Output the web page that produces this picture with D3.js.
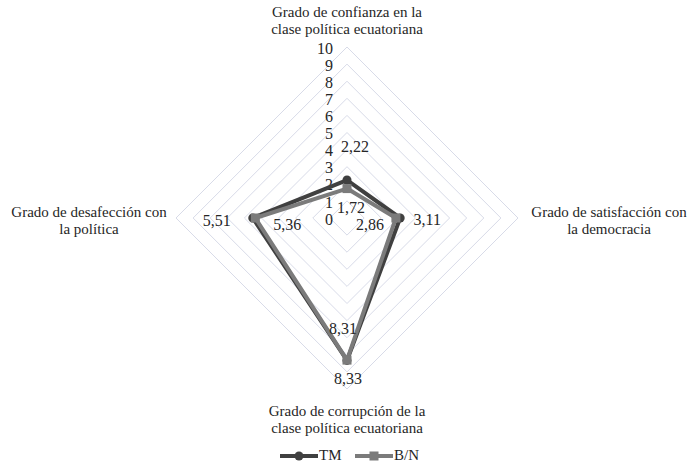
<!DOCTYPE html>
<html><head><meta charset="utf-8">
<script src="https://cdn.jsdelivr.net/npm/d3@7"></script>
<style>body{margin:0;background:#fff}</style>
</head><body><svg id="c" width="694" height="465" style="font-family:'Times New Roman','Liberation Serif',serif"></svg>
<script>
const categories = [
  ["Grado de confianza en la","clase política ecuatoriana"],
  ["Grado de satisfacción con","la democracia"],
  ["Grado de corrupción de la","clase política ecuatoriana"],
  ["Grado de desafección con","la política"]
];
const seriesNames = ["TM","B/N"];
const tmValues = [2.22, 3.11, 8.33, 5.51];
const bnValues = [1.72, 2.86, 8.31, 5.36];
const tickValues = [0,1,2,3,4,5,6,7,8,9,10];

const FONT = "'Times New Roman', 'Liberation Serif', serif";
const svg = d3.select("#c");
const cx = 347, cy = 218, R = 171;
const r = d3.scaleLinear().domain([0,10]).range([0,R]);
const ang = d3.scalePoint().domain(d3.range(categories.length)).range([0, 2*Math.PI*(categories.length-1)/categories.length]);
const pt = (i,v) => [cx + r(v)*Math.sin(ang(i)), cy - r(v)*Math.cos(ang(i))];
const textColor = "#262626";
const txt = (sel, size) => sel.style("font-family", FONT).style("font-size", size + "px").attr("fill", textColor);

// grid
const line = d3.line();
tickValues.filter(t=>t>0).forEach(t=>{
  const pts = categories.map((c,i)=>pt(i,t));
  svg.append("path").attr("d", line(pts)+"Z").attr("fill","none").attr("stroke","#d8dbe8").attr("stroke-width",1);
});
// tick labels
svg.selectAll(".tk").data(tickValues).join("text")
  .call(txt, 16)
  .attr("x", cx-14).attr("y", d=>cy - r(d) + 3).attr("text-anchor","end")
  .attr("dominant-baseline","middle").text(d=>d);

// category labels: [dx, dy first line, dy second line]
const catPos = [[0,-204,-187],[262,-4,13],[0,195,212],[-258,-4,13]];
categories.forEach((c,i)=>{
  const p = catPos[i];
  c.forEach((ln,j)=>{
    svg.append("text").call(txt, 15).attr("x", cx+p[0]).attr("y", cy+p[1+j])
      .attr("text-anchor","middle").attr("dominant-baseline","middle").text(ln);
  });
});

const series = [
  {name:seriesNames[0], values:tmValues, color:"#404040", marker:"circle",
   lab:[[8,-32],[27,3],[1,20],[-36,4]]},
  {name:seriesNames[1], values:bnValues, color:"#7b7b7b", marker:"square",
   lab:[[4,21],[-26,8],[-4,-30],[32,8]]}
];
const fmt = v => v.toFixed(2).replace(".",",");
series.forEach(s=>{
  const pts = s.values.map((v,i)=>pt(i,v));
  svg.append("path").attr("d", line(pts)+"Z").attr("fill","none").attr("stroke",s.color)
    .attr("stroke-width",4).attr("stroke-linejoin","round");
  pts.forEach(p=>{
    if(s.marker==="circle") svg.append("circle").attr("cx",p[0]).attr("cy",p[1]).attr("r",4.5).attr("fill",s.color);
    else svg.append("rect").attr("x",p[0]-4.5).attr("y",p[1]-4.5).attr("width",9).attr("height",9).attr("fill",s.color);
  });
});
series.forEach(s=>{
  s.values.forEach((v,i)=>{
    const p = pt(i,v);
    svg.append("text").call(txt, 16).attr("x",p[0]+s.lab[i][0]).attr("y",p[1]+s.lab[i][1])
      .attr("text-anchor","middle").attr("dominant-baseline","middle").text(fmt(v));
  });
});

// legend
const lg = svg.append("g");
const legItems = [{x:280,s:series[0]},{x:355,s:series[1]}];
legItems.forEach(li=>{
  const y = 456;
  lg.append("line").attr("x1",li.x).attr("x2",li.x+38).attr("y1",y).attr("y2",y).attr("stroke",li.s.color).attr("stroke-width",4);
  if(li.s.marker==="circle") lg.append("circle").attr("cx",li.x+19).attr("cy",y).attr("r",4.5).attr("fill",li.s.color);
  else lg.append("rect").attr("x",li.x+14.5).attr("y",y-4.5).attr("width",9).attr("height",9).attr("fill",li.s.color);
  lg.append("text").call(txt, 15).attr("x",li.x+39).attr("y",y+1).attr("dominant-baseline","middle").text(li.s.name);
});
</script></body></html>
